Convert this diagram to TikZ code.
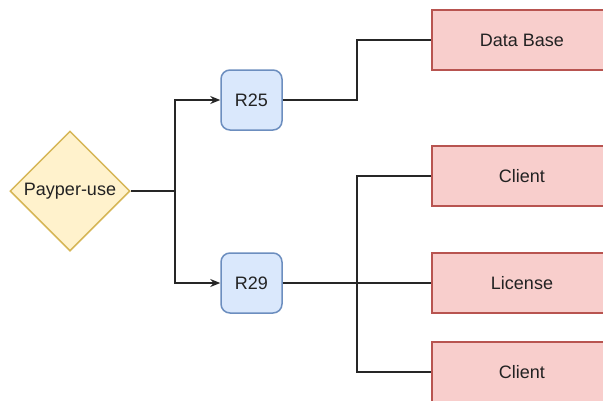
\documentclass[tikz,border=0pt]{standalone}
\usepackage{fontspec}
\setmainfont{Liberation Sans}
\usetikzlibrary{shapes.geometric,arrows.meta}
\definecolor{yfill}{HTML}{FFF2CC}
\definecolor{ydraw}{HTML}{D6B656}
\definecolor{bfill}{HTML}{DAE8FC}
\definecolor{bdraw}{HTML}{6C8EBF}
\definecolor{rfill}{HTML}{F8CECC}
\definecolor{rdraw}{HTML}{B85450}
\definecolor{txt}{HTML}{222222}
\begin{document}
\begin{tikzpicture}[x=1pt,y=-1pt,
  every node/.style={font=\fontsize{18}{21}\selectfont, text=txt, line width=1.5pt},
  dia/.style={diamond, aspect=1, draw=ydraw, fill=yfill, minimum width=120pt, minimum height=120pt, inner sep=0pt},
  rbox/.style={rectangle, rounded corners=9pt, draw=bdraw, fill=bfill, minimum width=61pt, minimum height=60pt, inner sep=0pt},
  ebox/.style={rectangle, draw=rdraw, fill=rfill, minimum width=180pt, minimum height=60pt, inner sep=0pt},
  conn/.style={line width=1.5pt, draw=black!85},
  arr/.style={conn, -{Stealth[length=10pt,width=8pt]}}
]
\useasboundingbox (0,0) rectangle (603,400);
\clip (0,0) rectangle (603,400);
\node[dia] (pay) at (70,191) {Payper-use};
\node[rbox] (r25) at (251.5,100) {R25};
\node[rbox] (r29) at (251.5,283) {R29};
\node[ebox] (db) at (522,40) {Data Base};
\node[ebox] (c1) at (522,176) {Client};
\node[ebox] (lic) at (522,283) {License};
\node[ebox] (c2) at (522,372) {Client};
\coordinate (b1) at (175,191);
\coordinate (b2) at (357,100);
\coordinate (b3) at (357,283);
\draw[arr] (pay.east) -- (b1) |- (r25.west);
\draw[arr] (b1) |- (r29.west);
\draw[conn] (r25.east) -- (b2) |- (db.west);
\draw[conn] (r29.east) -- (b3) |- (c1.west);
\draw[conn] (b3) -- (lic.west);
\draw[conn] (b3) |- (c2.west);
\end{tikzpicture}
\end{document}
